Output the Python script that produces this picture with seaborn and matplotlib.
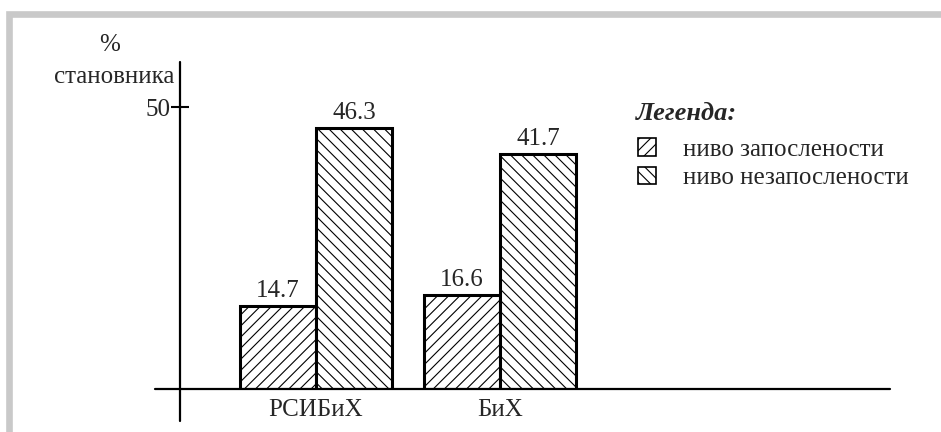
import pandas as pd
import seaborn as sns
import matplotlib.pyplot as plt
from matplotlib.patches import Patch, Rectangle

# Data
regions = ["РСИБиХ", "БиХ"]
levels = ["ниво запослености", "ниво незапослености"]
employed = [14.7, 16.6]
unemployed = [46.3, 41.7]
hatches = ["///", "\\\\\\"]

df = pd.DataFrame({
    "region": regions * 2,
    "level": [levels[0]] * 2 + [levels[1]] * 2,
    "value": employed + unemployed,
})

sns.set_theme(style="white")
plt.rcParams["font.family"] = ["Liberation Serif", "DejaVu Serif"]
plt.rcParams["hatch.linewidth"] = 0.8

W, H = 941, 432
fig = plt.figure(figsize=(W / 100, H / 100), dpi=100)
fig.patch.set_facecolor("white")

# gray frame round the picture
fig.patches.append(Rectangle((9 / W, -0.05), 1.1, 1 - 13.5 / H + 0.05,
                             transform=fig.transFigure, fill=False,
                             edgecolor="#c9c9c9", linewidth=4.8))

# axes box: x from 180 to 890 px, y from 62 to 389 px
ax = fig.add_axes([180 / W, 1 - 389 / H, 710 / W, (389 - 62) / H])
ax.set_facecolor("white")

sns.barplot(data=df, x="region", y="value", hue="level", ax=ax,
            palette=["white", "white"], edgecolor="black", linewidth=2.2,
            width=0.83, legend=False, saturation=1)

for cont, h in zip(ax.containers, hatches):
    for bar in cont:
        bar.set_hatch(h)
    ax.bar_label(cont, labels=[f"{v:.1f}" for v in cont.datavalues],
                 padding=3, fontsize=18)

ax.set_xlim(-0.739, 3.12)
ax.set_ylim(0, 58.0)
for s in ax.spines.values():
    s.set_visible(False)

# axis lines crossing at the origin
ax.axhline(0, xmin=-25 / 710, xmax=1.0, color="black", lw=1.6, clip_on=False)
ax.axvline(-0.739, ymin=-32 / 327, ymax=1.0, color="black", lw=1.6, clip_on=False)

ax.set_yticks([50])
ax.set_yticklabels(["50"], fontsize=18)
ax.tick_params(axis="y", direction="inout", length=13, width=1.5, pad=0,
               left=True, color="black")
ax.tick_params(axis="x", length=0, pad=7, labelsize=18)
ax.set_xlabel("")
ax.set_ylabel("")

fig.text(110 / W, 1 - 45 / H, "%", ha="center", va="center", fontsize=18)
fig.text(174 / W, 1 - 77 / H, "становника", ha="right", va="center", fontsize=18)

# legend
fig.text(636 / W, 1 - 113 / H, "Легенда:", ha="left", va="center",
         fontsize=19, fontweight="bold", fontstyle="italic")
handles = [Patch(facecolor="white", edgecolor="black", hatch=h, linewidth=1.2)
           for h in hatches]
leg = fig.legend(handles, levels, loc="upper left",
                 bbox_to_anchor=(638 / W, 1 - 138 / H), frameon=False,
                 borderpad=0, borderaxespad=0,
                 fontsize=18, handlelength=0.7, handleheight=0.7,
                 handletextpad=1.1, labelspacing=0.25)

fig.savefig("out.png", dpi=100)
